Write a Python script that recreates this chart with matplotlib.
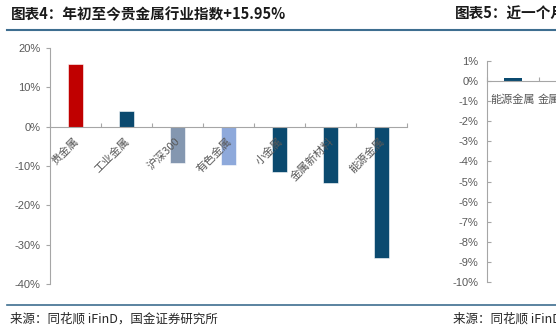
import matplotlib.pyplot as plt
from matplotlib.lines import Line2D

plt.rcParams['font.family'] = ['Liberation Sans', 'Noto Sans CJK SC', 'DejaVu Sans']

# left chart: YTD index change (%)
left_cats = ["贵金属", "工业金属", "沪深300", "有色金属", "小金属", "金属新材料", "能源金属"]
left_vals = [15.95, 4.05, -9.3, -9.7, -11.4, -14.4, -33.3]
left_colors = ["#C00000", "#0B4A6F", "#8497B0", "#8EA9DB", "#0B4A6F", "#0B4A6F", "#0B4A6F"]
left_yticks = [20, 10, 0, -10, -20, -30, -40]

# right chart: last month (cropped in the reference)
right_cats = ["能源金属", "金属新材料"]
right_vals = [0.13]
right_yticks = [1, 0, -1, -2, -3, -4, -5, -6, -7, -8, -9, -10]

title_left = "图表4：年初至今贵金属行业指数+15.95%"
title_right = "图表5：近一个月金属行业指数涨跌幅"
source_left = "来源：同花顺 iFinD，国金证券研究所"
source_right = "来源：同花顺 iFinD，国金证券研究所"

W, H = 556, 332
fig = plt.figure(figsize=(W / 100, H / 100), dpi=100)

axis_col = "#A6A6A6"
lab_col = "#595959"
cjk = ['Noto Sans CJK SC', 'DejaVu Sans']


def style_axes(ax, ydir):
    for s in ["top", "right"]:
        ax.spines[s].set_visible(False)
    ax.spines["bottom"].set_position(("data", 0))
    ax.spines["left"].set_color(axis_col)
    ax.spines["bottom"].set_color(axis_col)
    ax.spines["left"].set_linewidth(0.8)
    ax.spines["bottom"].set_linewidth(0.8)
    ax.tick_params(axis="y", direction=ydir, length=3, color=axis_col,
                   labelcolor=lab_col, labelsize=8, pad=4)
    ax.tick_params(axis="x", direction="in", length=3, color=axis_col,
                   labelbottom=False)


# ---- left chart
ax1 = fig.add_axes([50 / W, 48 / H, 357 / W, 236 / H])
x1 = range(len(left_cats))
ax1.bar(x1, left_vals, width=0.31, color=left_colors, edgecolor="white", linewidth=0.4)
ax1.set_xlim(-0.5, len(left_cats) - 0.5)
ax1.set_ylim(-40, 20)
ax1.set_yticks(left_yticks)
ax1.set_yticklabels([f"{v}%" for v in left_yticks])
ax1.set_xticks([i + 0.5 for i in range(-1, len(left_cats))])
style_axes(ax1, "out")
for i, c in enumerate(left_cats):
    ax1.annotate(c, (i, 0), xytext=(5, -9), textcoords="offset pixels",
                 ha="right", va="top", rotation=45, fontsize=8,
                 color=lab_col, family=cjk)

# ---- right chart (runs off the right edge)
ax2 = fig.add_axes([487 / W, 50 / H, 364 / W, 221 / H])
ax2.bar(range(len(right_vals)), right_vals, width=0.33, color="#0B4A6F")
ax2.set_xlim(-0.5, 6.5)
ax2.set_ylim(-10, 1)
ax2.set_yticks(right_yticks)
ax2.set_yticklabels([f"{v}%" for v in right_yticks])
ax2.set_xticks([i + 0.5 for i in range(-1, 7)])
style_axes(ax2, "in")
ax2.tick_params(axis="y", pad=6)
for i, c in enumerate(right_cats):
    ax2.annotate(c, (i, 0), xytext=(0, -13), textcoords="offset pixels",
                 ha="center", va="top", fontsize=8, color=lab_col, family=cjk)

# ---- titles, rules, sources
fig.text(11 / W, 1 - 14 / H, title_left, fontsize=10.5, fontweight="bold",
         family=cjk, va="center", ha="left", color="#1A1A1A")
fig.text(455 / W, 1 - 14 / H, title_right, fontsize=10.5, fontweight="bold",
         family=cjk, va="center", ha="left", color="#1A1A1A")
fig.add_artist(Line2D([7 / W, 1], [1 - 30 / H] * 2, color="#3E6E90", lw=1.5))
fig.add_artist(Line2D([7 / W, 1], [1 - 305 / H] * 2, color="#3E6E90", lw=1.2))
fig.text(10 / W, 1 - 319 / H, source_left, fontsize=9, family=cjk,
         va="center", ha="left", color="#262626")
fig.text(453 / W, 1 - 319 / H, source_right, fontsize=9, family=cjk,
         va="center", ha="left", color="#262626")

fig.savefig("out.png", dpi=100)
